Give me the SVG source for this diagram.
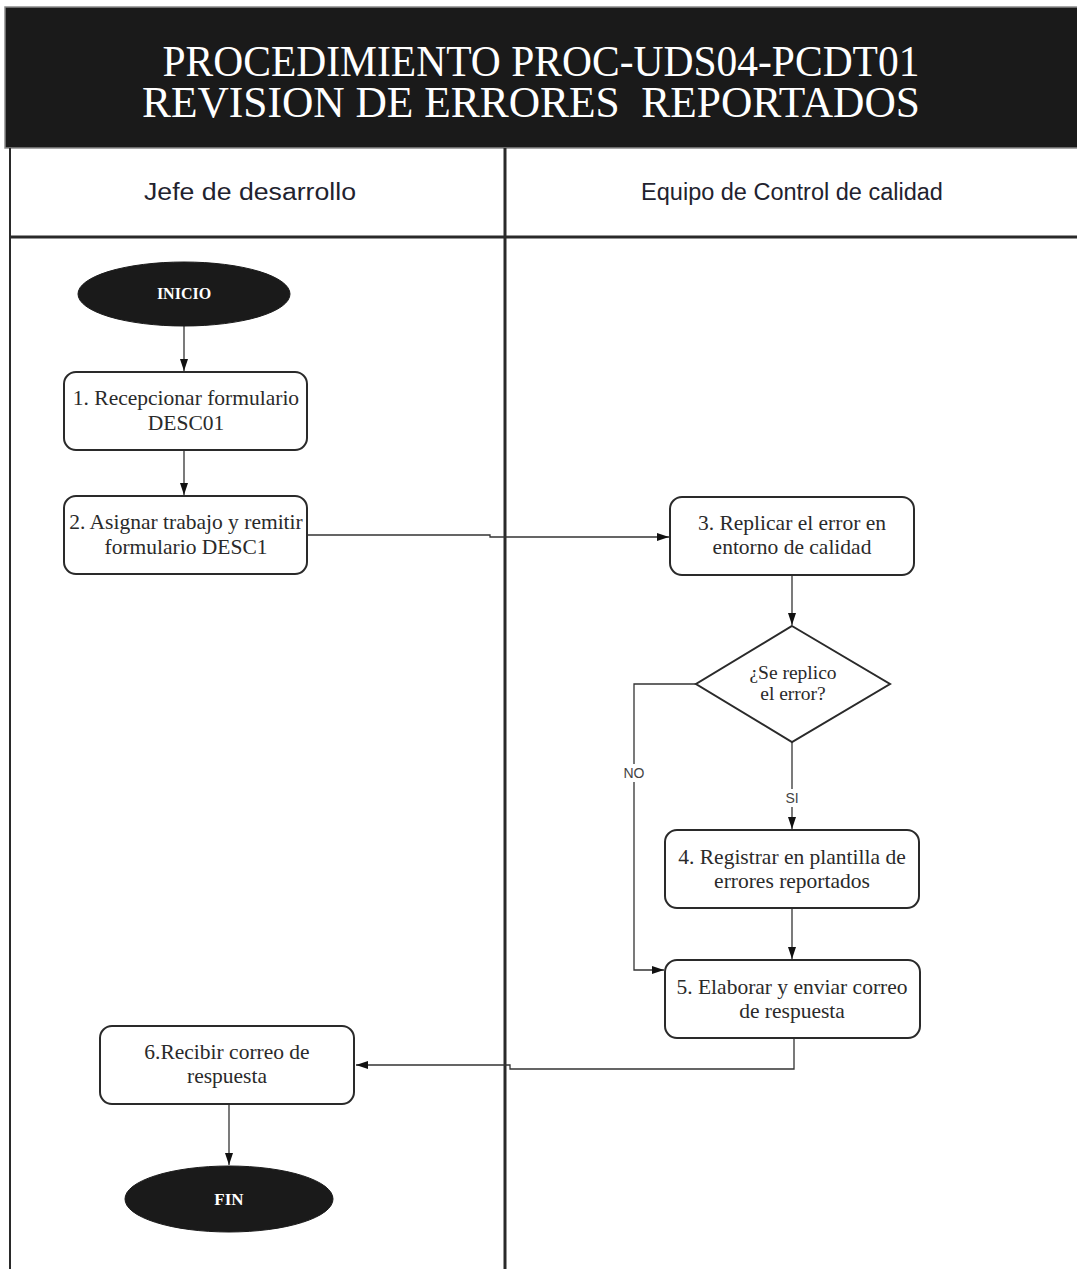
<svg xmlns="http://www.w3.org/2000/svg" width="1077" height="1269" viewBox="0 0 1077 1269">
<defs>
<style>
.lane{stroke:#2a2a2a;fill:none}
.box{fill:#fff;stroke:#2a2a2a;stroke-width:2}
.term{fill:#1a1a1a;stroke:#1a1a1a}
.t{font-family:"Liberation Serif","Times New Roman",serif;font-size:21.5px;fill:#2a2a2a;text-anchor:middle}
.tt{font-family:"Liberation Serif","Times New Roman",serif;font-size:16px;font-weight:bold;fill:#fff;text-anchor:middle}
.title{font-family:"Liberation Serif","Times New Roman",serif;font-size:44px;fill:#fff;text-anchor:middle}
.lh{font-family:"Liberation Sans",Arial,sans-serif;font-size:23.5px;fill:#22222e;text-anchor:middle}
.lbl{font-family:"Liberation Sans",Arial,sans-serif;font-size:14px;fill:#444;text-anchor:middle}
.c{fill:none;stroke:#333;stroke-width:1.3}
</style>
<marker id="ah" viewBox="0 0 12 10" refX="12" refY="5" markerWidth="12" markerHeight="10" markerUnits="userSpaceOnUse" orient="auto">
<path d="M0,1 L12,5 L0,9 Z" fill="#111"/>
</marker>
</defs>
<rect width="1077" height="1269" fill="#fff"/>
<g id="header">
<rect x="5" y="7" width="1080" height="141" fill="#1a1a1a" stroke="#8a8a8a" stroke-width="1.5"/>
<text class="title" x="541" y="76" textLength="757" lengthAdjust="spacingAndGlyphs">PROCEDIMIENTO PROC-UDS04-PCDT01</text>
<text class="title" x="531" y="117" textLength="778" lengthAdjust="spacingAndGlyphs" xml:space="preserve">REVISION DE ERRORES  REPORTADOS</text>
</g>
<g id="lanes">
<line class="lane" x1="10" y1="148" x2="10" y2="1269" stroke-width="2"/>
<line class="lane" x1="505" y1="148" x2="505" y2="1269" stroke-width="3"/>
<line class="lane" x1="10" y1="237" x2="1077" y2="237" stroke-width="3"/>
<text class="lh" x="250" y="200" textLength="212" lengthAdjust="spacingAndGlyphs">Jefe de desarrollo</text>
<text class="lh" x="792" y="200">Equipo de Control de calidad</text>
</g>
<g id="connectors">
<line class="c" x1="184" y1="326" x2="184" y2="371" marker-end="url(#ah)"/>
<line class="c" x1="184" y1="450" x2="184" y2="495" marker-end="url(#ah)"/>
<path class="c" d="M307,535 H490 V537 H669" marker-end="url(#ah)"/>
<line class="c" x1="792" y1="575" x2="792" y2="625" marker-end="url(#ah)"/>
<path class="c" d="M696,684 H634 V970 H664" marker-end="url(#ah)"/>
<line class="c" x1="792" y1="742" x2="792" y2="829" marker-end="url(#ah)"/>
<line class="c" x1="792" y1="908" x2="792" y2="959" marker-end="url(#ah)"/>
<path class="c" d="M794,1038 V1069 H510 V1065 H356" marker-end="url(#ah)"/>
<line class="c" x1="229" y1="1104" x2="229" y2="1165" marker-end="url(#ah)"/>
<rect x="622" y="764" width="24" height="18" fill="#fff"/>
<text class="lbl" x="634" y="778">NO</text>
<rect x="784" y="789" width="16" height="18" fill="#fff"/>
<text class="lbl" x="792" y="803">SI</text>
</g>
<g id="inicio">
<ellipse class="term" cx="184" cy="294" rx="106" ry="32"/>
<text class="tt" x="184" y="299">INICIO</text>
</g>
<g id="n1">
<rect class="box" x="64" y="372" width="243" height="78" rx="12"/>
<text class="t" x="186" y="405">1. Recepcionar formulario</text>
<text class="t" x="186" y="430">DESC01</text>
</g>
<g id="n2">
<rect class="box" x="64" y="496" width="243" height="78" rx="12"/>
<text class="t" x="186" y="529">2. Asignar trabajo y remitir</text>
<text class="t" x="186" y="554">formulario DESC1</text>
</g>
<g id="n3">
<rect class="box" x="670" y="497" width="244" height="78" rx="12"/>
<text class="t" x="792" y="530">3. Replicar el error en</text>
<text class="t" x="792" y="554">entorno de calidad</text>
</g>
<g id="d1">
<polygon points="792,626 890,684 792,742 696,684" fill="#fff" stroke="#2a2a2a" stroke-width="2"/>
<text class="t" x="793" y="679" style="font-size:19.5px">¿Se replico</text>
<text class="t" x="793" y="700" style="font-size:19.5px">el error?</text>
</g>
<g id="n4">
<rect class="box" x="665" y="830" width="254" height="78" rx="12"/>
<text class="t" x="792" y="864">4. Registrar en plantilla de</text>
<text class="t" x="792" y="888">errores reportados</text>
</g>
<g id="n5">
<rect class="box" x="665" y="960" width="255" height="78" rx="12"/>
<text class="t" x="792" y="994">5. Elaborar y enviar correo</text>
<text class="t" x="792" y="1018">de respuesta</text>
</g>
<g id="n6">
<rect class="box" x="100" y="1026" width="254" height="78" rx="12"/>
<text class="t" x="227" y="1059">6.Recibir correo de</text>
<text class="t" x="227" y="1083">respuesta</text>
</g>
<g id="fin">
<ellipse class="term" cx="229" cy="1199" rx="104" ry="33"/>
<text class="tt" x="229" y="1205" style="font-size:17px">FIN</text>
</g>
</svg>
